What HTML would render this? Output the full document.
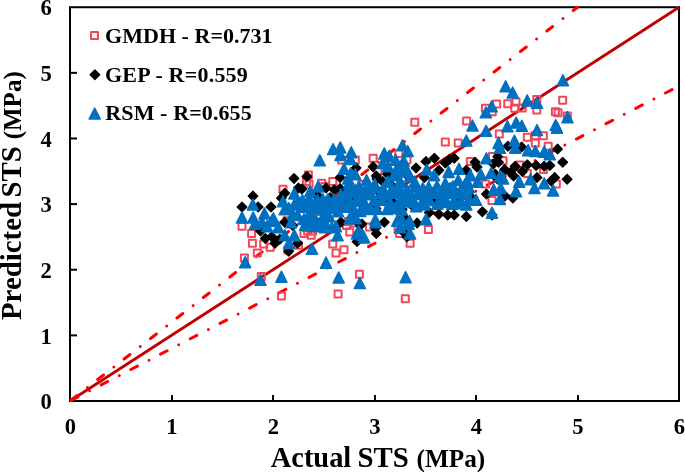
<!DOCTYPE html>
<html><head><meta charset="utf-8"><style>
html,body{margin:0;padding:0;background:#fff;width:685px;height:472px;overflow:hidden}
svg{display:block;will-change:transform}
text{font-family:"Liberation Serif",serif;font-weight:bold;fill:#000}
</style></head><body>
<svg width="685" height="472" viewBox="0 0 685 472">
<defs>
<symbol id="s" overflow="visible"><rect x="-3.5" y="-3.5" width="7" height="7" fill="none" stroke="#F0485A" stroke-width="2" stroke-linejoin="round"/></symbol>
<symbol id="d" overflow="visible"><path d="M0,-4.8L4.8,0L0,4.8L-4.8,0Z" fill="#000" stroke="#000" stroke-width="1.3" stroke-linejoin="round"/></symbol>
<symbol id="t" overflow="visible"><path d="M0,-5.4L5.6,5.7L-5.6,5.7Z" fill="#0070C0" stroke="#0070C0" stroke-width="1.4" stroke-linejoin="round"/></symbol>
</defs>
<rect x="70.0" y="7.220000000000027" width="609.0" height="393.78" fill="none" stroke="#000" stroke-width="2"/>
<line x1="172" y1="401.0" x2="172" y2="395.0" stroke="#000" stroke-width="2"/>
<line x1="70.0" y1="335.37" x2="77.0" y2="335.37" stroke="#000" stroke-width="2"/>
<line x1="273" y1="401.0" x2="273" y2="395.0" stroke="#000" stroke-width="2"/>
<line x1="70.0" y1="269.74" x2="77.0" y2="269.74" stroke="#000" stroke-width="2"/>
<line x1="375" y1="401.0" x2="375" y2="395.0" stroke="#000" stroke-width="2"/>
<line x1="70.0" y1="204.11" x2="77.0" y2="204.11" stroke="#000" stroke-width="2"/>
<line x1="476" y1="401.0" x2="476" y2="395.0" stroke="#000" stroke-width="2"/>
<line x1="70.0" y1="138.48000000000002" x2="77.0" y2="138.48000000000002" stroke="#000" stroke-width="2"/>
<line x1="578" y1="401.0" x2="578" y2="395.0" stroke="#000" stroke-width="2"/>
<line x1="70.0" y1="72.85000000000002" x2="77.0" y2="72.85000000000002" stroke="#000" stroke-width="2"/>
<clipPath id="pc"><rect x="69.5" y="6" width="610.5" height="396"/></clipPath>
<g clip-path="url(#pc)"><line x1="70.0" y1="401.0" x2="679.0" y2="7.220000000000027" stroke="#C00000" stroke-width="2.8"/>
<line x1="70.0" y1="401.0" x2="577.5" y2="7.220000000000027" stroke="#FF0000" stroke-width="3" stroke-linecap="round" stroke-dasharray="7.35 13.045 0 13.045" stroke-dashoffset="-1.65"/>
<line x1="70.0" y1="401.0" x2="679.0" y2="85.97600000000006" stroke="#FF0000" stroke-width="3" stroke-linecap="round" stroke-dasharray="7.35 13.045 0 13.045" stroke-dashoffset="-1.65"/></g>
<g><use href="#s" x="414.8" y="122.2"/><use href="#s" x="466.6" y="121"/><use href="#s" x="485.4" y="108.2"/><use href="#s" x="496.6" y="104"/><use href="#s" x="507.8" y="103.8"/><use href="#s" x="516" y="102"/><use href="#s" x="514.8" y="108.2"/><use href="#s" x="492.2" y="111.8"/><use href="#s" x="522.2" y="107.9"/><use href="#s" x="536.8" y="99.6"/><use href="#s" x="536.8" y="110.1"/><use href="#s" x="562.7" y="100.2"/><use href="#s" x="555.4" y="111.8"/><use href="#s" x="558" y="112.7"/><use href="#s" x="567.3" y="116"/><use href="#s" x="308.4" y="175"/><use href="#s" x="283" y="189.3"/><use href="#s" x="321.7" y="183.2"/><use href="#s" x="373.1" y="158.2"/><use href="#s" x="355.3" y="159.9"/><use href="#s" x="341.6" y="159.9"/><use href="#s" x="332.8" y="181.6"/><use href="#s" x="324.7" y="186.4"/><use href="#s" x="398.8" y="153.4"/><use href="#s" x="406.9" y="159.9"/><use href="#s" x="377.9" y="171.1"/><use href="#s" x="361.8" y="184.4"/><use href="#s" x="445.3" y="142.1"/><use href="#s" x="458.2" y="142.9"/><use href="#s" x="499.3" y="134.1"/><use href="#s" x="470.3" y="161.5"/><use href="#s" x="492.4" y="156.6"/><use href="#s" x="485.6" y="184"/><use href="#s" x="527.3" y="137.3"/><use href="#s" x="535.3" y="135.7"/><use href="#s" x="543.4" y="135.7"/><use href="#s" x="535.3" y="143"/><use href="#s" x="548.2" y="146.2"/><use href="#s" x="503.1" y="160.7"/><use href="#s" x="520" y="165"/><use href="#s" x="543.4" y="169.5"/><use href="#s" x="527.3" y="173.6"/><use href="#s" x="556.3" y="184"/><use href="#s" x="242" y="226.3"/><use href="#s" x="251.6" y="233.6"/><use href="#s" x="252.4" y="243.2"/><use href="#s" x="257.3" y="252.9"/><use href="#s" x="263.7" y="244"/><use href="#s" x="270.2" y="247.2"/><use href="#s" x="304" y="233.6"/><use href="#s" x="311.2" y="235.2"/><use href="#s" x="309" y="184"/><use href="#s" x="320" y="216.6"/><use href="#s" x="287" y="220.7"/><use href="#s" x="346.5" y="225.5"/><use href="#s" x="349.7" y="232"/><use href="#s" x="332.8" y="244"/><use href="#s" x="336" y="252.9"/><use href="#s" x="344" y="249.7"/><use href="#s" x="399.6" y="233.6"/><use href="#s" x="410.1" y="243.2"/><use href="#s" x="353.7" y="223.1"/><use href="#s" x="492" y="200.5"/><use href="#s" x="428.4" y="229.5"/><use href="#s" x="244.4" y="258.1"/><use href="#s" x="261.3" y="276.6"/><use href="#s" x="281.4" y="296"/><use href="#s" x="298.4" y="245.2"/><use href="#s" x="287.9" y="250"/><use href="#s" x="359.4" y="274.2"/><use href="#s" x="338.1" y="293.9"/><use href="#s" x="405.3" y="298.7"/><use href="#s" x="306.4" y="181.4"/><use href="#s" x="348.3" y="221.4"/><use href="#s" x="307.6" y="231"/><use href="#s" x="312.7" y="231"/><use href="#s" x="369.5" y="227.1"/><use href="#s" x="398.1" y="229.7"/><use href="#d" x="294" y="178.4"/><use href="#d" x="306.9" y="176.5"/><use href="#d" x="298.4" y="188"/><use href="#d" x="373.1" y="166.8"/><use href="#d" x="356.1" y="167.9"/><use href="#d" x="340" y="177.6"/><use href="#d" x="334.4" y="189.7"/><use href="#d" x="326" y="188"/><use href="#d" x="340" y="188.5"/><use href="#d" x="347" y="190"/><use href="#d" x="376.3" y="176"/><use href="#d" x="382.7" y="181.6"/><use href="#d" x="408.5" y="176.8"/><use href="#d" x="387.5" y="174"/><use href="#d" x="434.4" y="158.2"/><use href="#d" x="426" y="161.5"/><use href="#d" x="416" y="167.9"/><use href="#d" x="454.2" y="158.2"/><use href="#d" x="445.3" y="163.1"/><use href="#d" x="475.1" y="162.3"/><use href="#d" x="497.7" y="156.6"/><use href="#d" x="498.5" y="162.3"/><use href="#d" x="424.4" y="177.6"/><use href="#d" x="466.3" y="170.3"/><use href="#d" x="496.9" y="178.4"/><use href="#d" x="438.9" y="170.3"/><use href="#d" x="507.9" y="146.2"/><use href="#d" x="521.6" y="147"/><use href="#d" x="557.6" y="149.1"/><use href="#d" x="562.7" y="162.3"/><use href="#d" x="515.2" y="166.3"/><use href="#d" x="527.3" y="164.7"/><use href="#d" x="536.1" y="165.5"/><use href="#d" x="544.2" y="166.3"/><use href="#d" x="549.8" y="165.5"/><use href="#d" x="504.7" y="169.5"/><use href="#d" x="513.6" y="176"/><use href="#d" x="537" y="177.6"/><use href="#d" x="554.7" y="177.6"/><use href="#d" x="567.1" y="179.2"/><use href="#d" x="493.4" y="163.9"/><use href="#d" x="242" y="207"/><use href="#d" x="258.1" y="207"/><use href="#d" x="271" y="207"/><use href="#d" x="284.7" y="193.3"/><use href="#d" x="281.4" y="198.1"/><use href="#d" x="260.5" y="231.1"/><use href="#d" x="265.3" y="238.4"/><use href="#d" x="271.8" y="236.8"/><use href="#d" x="275" y="243.2"/><use href="#d" x="279.8" y="239.2"/><use href="#d" x="284.7" y="222.3"/><use href="#d" x="292.7" y="225.5"/><use href="#d" x="297.6" y="243.2"/><use href="#d" x="288.7" y="251.3"/><use href="#d" x="304" y="202.9"/><use href="#d" x="318.5" y="196.5"/><use href="#d" x="361.8" y="223.9"/><use href="#d" x="376.3" y="233.6"/><use href="#d" x="384.3" y="222.3"/><use href="#d" x="406.9" y="236.8"/><use href="#d" x="357" y="241.6"/><use href="#d" x="340.8" y="222.3"/><use href="#d" x="352.1" y="210.2"/><use href="#d" x="486.4" y="194.1"/><use href="#d" x="482.4" y="211.8"/><use href="#d" x="466.3" y="216.6"/><use href="#d" x="454.2" y="215"/><use href="#d" x="447.7" y="215"/><use href="#d" x="438.9" y="214.2"/><use href="#d" x="429.2" y="212.6"/><use href="#d" x="417.1" y="223.1"/><use href="#d" x="402.6" y="231.1"/><use href="#d" x="470.3" y="196.5"/><use href="#d" x="492" y="215"/><use href="#d" x="512.8" y="198.1"/><use href="#d" x="505" y="196"/><use href="#d" x="301.9" y="189"/><use href="#d" x="315.3" y="194.1"/><use href="#d" x="357.2" y="222"/><use href="#d" x="375.3" y="228.4"/><use href="#d" x="403.9" y="217"/><use href="#d" x="413.4" y="206.8"/><use href="#d" x="394.3" y="203.6"/><use href="#d" x="377" y="179"/><use href="#d" x="449.3" y="159.6"/><use href="#d" x="477" y="167"/><use href="#d" x="375.91665143256" y="208.5370590557139"/><use href="#d" x="444.5771690676637" y="190.69814310786"/><use href="#d" x="344.07109198895444" y="192.9100996220959"/><use href="#d" x="342.09439369770854" y="200.83380354048097"/><use href="#d" x="345.3888391722868" y="196.3133389243727"/><use href="#d" x="322.93789338810956" y="209.57046052052002"/><use href="#d" x="361.9122041918203" y="197.37034663473682"/><use href="#d" x="402.08603510732377" y="209.41601291263507"/><use href="#d" x="373.6099473740864" y="209.77846927725193"/><use href="#d" x="387.7885646960405" y="199.35927398577022"/><use href="#d" x="391.6136524777541" y="185.50503143344633"/><use href="#d" x="377.0218596673651" y="189.94391295634938"/><use href="#d" x="330.16067463735357" y="197.78430917647282"/><use href="#d" x="426.90882232829114" y="200.02484187235976"/><use href="#d" x="357.04687643355123" y="198.995415242982"/><use href="#d" x="397.2023281040432" y="206.17535683486784"/><use href="#d" x="318.56914799336244" y="200.12799560676672"/><use href="#d" x="435.14569228221046" y="198.70827777839264"/><use href="#d" x="459.6854063577171" y="196.96770662659085"/><use href="#d" x="407.1923797602806" y="198.649934532983"/><use href="#d" x="389.6282576761809" y="203.70373706880218"/><use href="#d" x="379.16051364635916" y="199.39870681463762"/><use href="#d" x="253" y="196.1"/><use href="#d" x="495.3" y="174.2"/><use href="#d" x="510.5" y="172.5"/><use href="#d" x="522.4" y="171.6"/><use href="#d" x="551.2" y="180.9"/><use href="#t" x="505.6" y="86.1"/><use href="#t" x="512.7" y="92.4"/><use href="#t" x="491.7" y="106.2"/><use href="#t" x="485.9" y="112.2"/><use href="#t" x="527.2" y="100.3"/><use href="#t" x="537" y="102.6"/><use href="#t" x="562.9" y="80.2"/><use href="#t" x="567.5" y="117"/><use href="#t" x="472.5" y="125.4"/><use href="#t" x="507.4" y="126.1"/><use href="#t" x="516.2" y="122.4"/><use href="#t" x="521.8" y="125.6"/><use href="#t" x="555.7" y="124.9"/><use href="#t" x="319.8" y="160.2"/><use href="#t" x="318.2" y="186.3"/><use href="#t" x="333.1" y="148.9"/><use href="#t" x="340.3" y="147.3"/><use href="#t" x="340.5" y="154.9"/><use href="#t" x="351.3" y="152.1"/><use href="#t" x="350.5" y="158.9"/><use href="#t" x="344" y="168.6"/><use href="#t" x="355.3" y="174.2"/><use href="#t" x="348.1" y="178.3"/><use href="#t" x="366.6" y="179.9"/><use href="#t" x="374.7" y="183.9"/><use href="#t" x="384.3" y="153.3"/><use href="#t" x="389.2" y="155.7"/><use href="#t" x="395.6" y="159.7"/><use href="#t" x="402.5" y="145.2"/><use href="#t" x="407.7" y="150.9"/><use href="#t" x="403.7" y="160.5"/><use href="#t" x="382.7" y="162.9"/><use href="#t" x="394" y="175"/><use href="#t" x="403.7" y="171"/><use href="#t" x="387.6" y="181.5"/><use href="#t" x="400.4" y="181.5"/><use href="#t" x="355.3" y="189.5"/><use href="#t" x="369.8" y="191.1"/><use href="#t" x="381.1" y="192.7"/><use href="#t" x="392.4" y="187.9"/><use href="#t" x="406.9" y="189.5"/><use href="#t" x="340.8" y="194.3"/><use href="#t" x="310.2" y="191.1"/><use href="#t" x="486.1" y="130.7"/><use href="#t" x="466.3" y="140.4"/><use href="#t" x="498.5" y="142.8"/><use href="#t" x="486.4" y="158.1"/><use href="#t" x="426.8" y="169.4"/><use href="#t" x="434.1" y="175"/><use href="#t" x="448.6" y="171.8"/><use href="#t" x="459" y="168.6"/><use href="#t" x="470.3" y="175"/><use href="#t" x="480.8" y="174.2"/><use href="#t" x="491.2" y="172.6"/><use href="#t" x="414.7" y="181.5"/><use href="#t" x="445.3" y="183.1"/><use href="#t" x="458.2" y="179.9"/><use href="#t" x="464.7" y="184.7"/><use href="#t" x="477.6" y="181.5"/><use href="#t" x="500" y="176"/><use href="#t" x="422.8" y="187.9"/><use href="#t" x="435.7" y="191.1"/><use href="#t" x="450.2" y="187.9"/><use href="#t" x="466.3" y="189.5"/><use href="#t" x="493.7" y="189.5"/><use href="#t" x="400.2" y="189.5"/><use href="#t" x="537" y="129.9"/><use href="#t" x="499.9" y="147.6"/><use href="#t" x="514.4" y="140.4"/><use href="#t" x="515.2" y="147.6"/><use href="#t" x="528.1" y="150"/><use href="#t" x="535.3" y="150.9"/><use href="#t" x="544.2" y="151.7"/><use href="#t" x="549.8" y="154.1"/><use href="#t" x="503.1" y="178.3"/><use href="#t" x="500.7" y="187.9"/><use href="#t" x="519.2" y="181.5"/><use href="#t" x="516" y="191.1"/><use href="#t" x="530.5" y="179"/><use href="#t" x="534.5" y="187.9"/><use href="#t" x="544.2" y="183.1"/><use href="#t" x="553.1" y="190.3"/><use href="#t" x="242" y="217.3"/><use href="#t" x="252.8" y="204.4"/><use href="#t" x="253.2" y="217.3"/><use href="#t" x="254.9" y="223.7"/><use href="#t" x="264.5" y="213.3"/><use href="#t" x="271.8" y="220.5"/><use href="#t" x="273.4" y="218.1"/><use href="#t" x="278.2" y="227"/><use href="#t" x="283" y="201.2"/><use href="#t" x="284.7" y="209.2"/><use href="#t" x="294.3" y="204.4"/><use href="#t" x="307.2" y="202.8"/><use href="#t" x="313.7" y="207.6"/><use href="#t" x="297.6" y="214.9"/><use href="#t" x="304" y="218.9"/><use href="#t" x="313.7" y="220.5"/><use href="#t" x="291.1" y="222.1"/><use href="#t" x="294.3" y="235"/><use href="#t" x="289" y="243"/><use href="#t" x="284.7" y="235"/><use href="#t" x="312" y="248.7"/><use href="#t" x="318.5" y="223.7"/><use href="#t" x="308" y="225.3"/><use href="#t" x="336" y="226.2"/><use href="#t" x="337.6" y="235"/><use href="#t" x="324.7" y="227"/><use href="#t" x="357" y="233.4"/><use href="#t" x="364.2" y="237.4"/><use href="#t" x="375.5" y="222.1"/><use href="#t" x="397.2" y="220.5"/><use href="#t" x="408.5" y="223.7"/><use href="#t" x="410.1" y="233.4"/><use href="#t" x="360.2" y="210.9"/><use href="#t" x="426" y="219"/><use href="#t" x="492" y="212.5"/><use href="#t" x="476" y="199.6"/><use href="#t" x="466.3" y="204.4"/><use href="#t" x="455" y="202.8"/><use href="#t" x="442.1" y="201.2"/><use href="#t" x="437.3" y="203.6"/><use href="#t" x="424.4" y="204.4"/><use href="#t" x="416.3" y="206"/><use href="#t" x="401.8" y="209.3"/><use href="#t" x="401.8" y="218.9"/><use href="#t" x="400.2" y="227"/><use href="#t" x="499.9" y="198.8"/><use href="#t" x="245.2" y="262"/><use href="#t" x="260.5" y="279.7"/><use href="#t" x="281.4" y="276.5"/><use href="#t" x="326" y="262.5"/><use href="#t" x="338.7" y="277.3"/><use href="#t" x="359.8" y="282.9"/><use href="#t" x="405.6" y="277"/><use href="#t" x="349" y="183"/><use href="#t" x="334.3" y="199.1"/><use href="#t" x="322.9" y="199.1"/><use href="#t" x="310.2" y="199.7"/><use href="#t" x="353.4" y="191.5"/><use href="#t" x="355.9" y="200.3"/><use href="#t" x="303.8" y="206.7"/><use href="#t" x="321.6" y="206.7"/><use href="#t" x="329.2" y="204.2"/><use href="#t" x="338.1" y="205.5"/><use href="#t" x="347" y="206.7"/><use href="#t" x="312.7" y="214.3"/><use href="#t" x="322.9" y="216.9"/><use href="#t" x="338.1" y="211.2"/><use href="#t" x="354.7" y="210.5"/><use href="#t" x="349.6" y="218.2"/><use href="#t" x="355.9" y="218.2"/><use href="#t" x="325.4" y="223.3"/><use href="#t" x="305.1" y="224.5"/><use href="#t" x="314" y="225.8"/><use href="#t" x="331.8" y="227.1"/><use href="#t" x="358.5" y="230.9"/><use href="#t" x="375.3" y="219.4"/><use href="#t" x="409.6" y="220.7"/><use href="#t" x="362.5" y="234.7"/><use href="#t" x="452.4" y="203.7"/><use href="#t" x="350.7" y="173"/><use href="#t" x="388" y="166"/><use href="#t" x="397" y="168"/><use href="#t" x="403" y="164"/><use href="#t" x="398.6" y="171.2"/><use href="#t" x="406.6" y="169.4"/><use href="#t" x="410" y="176"/><use href="#t" x="298" y="202"/><use href="#t" x="315.5" y="205"/><use href="#t" x="328" y="199"/><use href="#t" x="342" y="206"/><use href="#t" x="350" y="203"/><use href="#t" x="329" y="216"/><use href="#t" x="307" y="218"/><use href="#t" x="466.88313844456746" y="180.59698330118871"/><use href="#t" x="350.7937125986384" y="187.21907782083215"/><use href="#t" x="359.1264334354927" y="186.4412425385443"/><use href="#t" x="366.585886098821" y="187.28310963131506"/><use href="#t" x="374.2396856128475" y="186.86861599390423"/><use href="#t" x="383.0199033415376" y="188.33404328532382"/><use href="#t" x="396.6820082827917" y="187.60447606391327"/><use href="#t" x="414.96577435982914" y="186.35378659628245"/><use href="#t" x="428.56768878416676" y="186.8850858588993"/><use href="#t" x="437.0041451367196" y="185.8512873834452"/><use href="#t" x="444.67686325799394" y="187.80469896541757"/><use href="#t" x="452.88802066605604" y="186.24284450109073"/><use href="#t" x="461.6728491093997" y="188.1142659223789"/><use href="#t" x="468.7417439036004" y="186.847562202848"/><use href="#t" x="345.20000825104256" y="193.95488819102408"/><use href="#t" x="360.5122808101552" y="193.75683950337597"/><use href="#t" x="369.6077607186842" y="194.19902367111916"/><use href="#t" x="386.0464742992123" y="194.3527782482274"/><use href="#t" x="394.5286002473485" y="192.66197867967136"/><use href="#t" x="403.19859903017385" y="194.83990847211822"/><use href="#t" x="411.12353955240343" y="194.8936193635897"/><use href="#t" x="417.6771367206738" y="193.69693649696083"/><use href="#t" x="424.81061128113095" y="194.40286869705713"/><use href="#t" x="432.6867434648561" y="192.70204284752907"/><use href="#t" x="441.1262895563385" y="192.9869095633163"/><use href="#t" x="449.52016095669705" y="192.6577268116708"/><use href="#t" x="456.50069984570405" y="192.95379479683828"/><use href="#t" x="464.8043931040678" y="193.59082976610372"/><use href="#t" x="302.3422069633654" y="199.94565145599267"/><use href="#t" x="317.59249031858485" y="199.8685266922866"/><use href="#t" x="327.04681077945384" y="202.47930816511413"/><use href="#t" x="340.7576539846685" y="199.80656285024452"/><use href="#t" x="349.527907514729" y="200.29427067515155"/><use href="#t" x="358.9865661343647" y="199.9843158315793"/><use href="#t" x="364.56928716313575" y="202.3529567186241"/><use href="#t" x="374.0847721851264" y="199.93980761669727"/><use href="#t" x="382.12951727764636" y="199.5811274742665"/><use href="#t" x="390.08432832281494" y="202.43550372815693"/><use href="#t" x="399.089975090869" y="201.5885903577234"/><use href="#t" x="405.2833455916881" y="200.60009937528355"/><use href="#t" x="413.001126103603" y="201.81581372520608"/><use href="#t" x="422.09777719247865" y="201.83716467401453"/><use href="#t" x="429.4889949851433" y="200.16912501930955"/><use href="#t" x="447.05788639624" y="201.918235754357"/><use href="#t" x="461.18021847009476" y="201.0529161727305"/><use href="#t" x="469.56668763006485" y="199.5869404522241"/><use href="#t" x="323.3110636038287" y="209.46411417460857"/><use href="#t" x="331.365001893964" y="207.5939076560856"/><use href="#t" x="363.02130658183785" y="207.9384202787846"/><use href="#t" x="370.458934128523" y="208.89893123454897"/><use href="#t" x="376.7543354593511" y="208.48175695061468"/><use href="#t" x="387.22933141265514" y="208.84690865229427"/><use href="#t" x="394.7504213794914" y="207.934098233782"/><use href="#t" x="262" y="222"/><use href="#t" x="293" y="214"/><use href="#t" x="289" y="208"/><use href="#t" x="557" y="127.5"/><use href="#t" x="294.3" y="193.3"/><use href="#t" x="267" y="226"/></g>
<text x="70.3" y="434.2" font-size="22.6" text-anchor="middle">0</text>
<text x="51.8" y="409.2" font-size="22.6" text-anchor="end">0</text>
<text x="171.8" y="434.2" font-size="22.6" text-anchor="middle">1</text>
<text x="51.8" y="343.57" font-size="22.6" text-anchor="end">1</text>
<text x="273.3" y="434.2" font-size="22.6" text-anchor="middle">2</text>
<text x="51.8" y="277.94" font-size="22.6" text-anchor="end">2</text>
<text x="374.8" y="434.2" font-size="22.6" text-anchor="middle">3</text>
<text x="51.8" y="212.31" font-size="22.6" text-anchor="end">3</text>
<text x="476.3" y="434.2" font-size="22.6" text-anchor="middle">4</text>
<text x="51.8" y="146.68" font-size="22.6" text-anchor="end">4</text>
<text x="577.8" y="434.2" font-size="22.6" text-anchor="middle">5</text>
<text x="51.8" y="81.05000000000003" font-size="22.6" text-anchor="end">5</text>
<text x="679.3" y="434.2" font-size="22.6" text-anchor="middle">6</text>
<text x="51.8" y="15.420000000000027" font-size="22.6" text-anchor="end">6</text>
<text x="270.8" y="466.5" font-size="28.4">Actual</text>
<text x="357.5" y="466.5" font-size="28.8">STS</text>
<text x="416.5" y="466.5" font-size="25.25">(MPa)</text>
<g transform="translate(21.1,0) rotate(-90)">
<text x="-320" y="0" font-size="28.85">Predicted</text>
<text x="-197.5" y="0" font-size="28.9">STS</text>
<text x="-139.3" y="0" font-size="25">(MPa)</text>
</g>
<use href="#s" x="94.5" y="35.5"/>
<use href="#d" x="94.9" y="74.8"/>
<use href="#t" x="94.7" y="113.4"/>
<text x="105" y="43.2" font-size="22" textLength="167.6" lengthAdjust="spacing">GMDH - R=0.731</text>
<text x="105" y="81.7" font-size="22" textLength="142.8" lengthAdjust="spacing">GEP - R=0.559</text>
<text x="105.3" y="119.8" font-size="22" textLength="146.4" lengthAdjust="spacing">RSM - R=0.655</text>
</svg></body></html>
